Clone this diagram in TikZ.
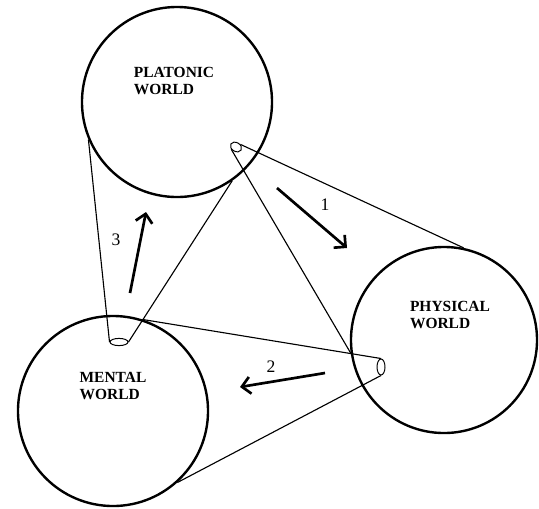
\documentclass[tikz,border=0pt]{standalone}
\usepackage{fontspec}
\setmainfont{Liberation Serif}
\usetikzlibrary{shapes.geometric,arrows.meta}

\tikzset{
  world/.style={draw, circle, line width=1.7pt, inner sep=0pt},
  apex/.style={draw, ellipse, line width=0.7pt, inner sep=0pt},
  cone/.style={line width=0.8pt},
  flow/.style={line width=1.9pt, -{Straight Barb[length=6pt,width=12pt]}},
  wlabel/.style={align=left, font=\fontsize{11}{11.5}\selectfont\bfseries},
  num/.style={font=\fontsize{12.5}{12.5}\selectfont}
}

\begin{document}
\begin{tikzpicture}[x=0.025cm, y=-0.025cm]
        \useasboundingbox (0,0) rectangle (539,508);

        % The three worlds
        \node[world, minimum size=4.75cm] (plat) at (177,102) {};
        \node[wlabel] at (174,81) {PLATONIC\\WORLD};

        \node[world, minimum size=4.65cm] (phys) at (444,340) {};
        \node[wlabel] at (450,315) {PHYSICAL\\WORLD};

        \node[world, minimum size=4.75cm] (ment) at (113,411) {};
        \node[wlabel] at (113,386) {MENTAL\\WORLD};

        % Small parts that the cones start from
        \node[apex, minimum width=0.3cm, minimum height=0.22cm, rotate=-30] (apexP) at (236,147) {};
        \node[apex, minimum width=0.2cm, minimum height=0.4cm] (apexPh) at (381,367) {};
        \node[apex, minimum width=0.45cm, minimum height=0.18cm] (apexM) at (119,342) {};

        % Cones
        \draw[cone] (apexP.60) -- (phys.78);
        \draw[cone] (apexP.235) -- (phys.188);
        \draw[cone] (apexPh.90) -- (ment.72);
        \draw[cone] (apexPh.-90) -- (ment.-48);
        \draw[cone] (apexM.180) -- (plat.203);
        \draw[cone] (apexM.0) -- (plat.-55);

        % Numbered arrows
        \coordinate (s1) at (277,188);
        \coordinate (e1) at (347,248);
        \coordinate (s2) at (325,373);
        \coordinate (e2) at (240,387);
        \coordinate (s3) at (130,293);
        \coordinate (e3) at (146,212);
        \draw[flow] (s1) -- (e1);
        \draw[flow] (s2) -- (e2);
        \draw[flow] (s3) -- (e3);
        \node[num] (n1) at (325,205) {1};
        \node[num] (n2) at (271,367) {2};
        \node[num] (n3) at (116,240) {3};
      \end{tikzpicture}
\end{document}
